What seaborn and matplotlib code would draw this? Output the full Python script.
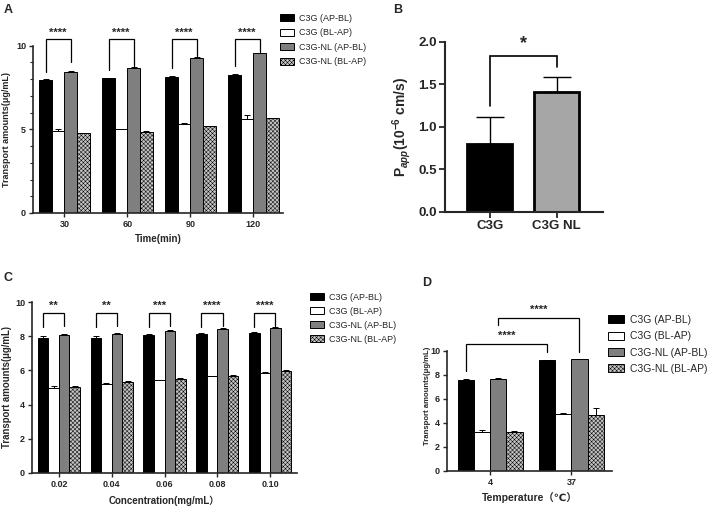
import numpy as np
import pandas as pd
import matplotlib
matplotlib.use("Agg")
import matplotlib.pyplot as plt
from matplotlib.ticker import MultipleLocator
import seaborn as sns
from matplotlib.patches import Patch

# ---------------- data ----------------
series = ["C3G (AP-BL)", "C3G (BL-AP)", "C3G-NL (AP-BL)", "C3G-NL (BL-AP)"]

time_labels = ["30", "60", "90", "120"]
a_apbl = [7.95, 8.05, 8.15, 8.27]
a_blap = [4.92, 5.00, 5.32, 5.63]
a_nl_apbl = [8.45, 8.69, 9.29, 9.54]
a_nl_blap = [4.78, 4.87, 5.20, 5.67]
a_err_apbl = [0.04, 0.04, 0.04, 0.04]
a_err_blap = [0.10, 0.05, 0.06, 0.20]
a_err_nl_apbl = [0.05, 0.05, 0.06, 0.04]
a_err_nl_blap = [0.03, 0.03, 0.03, 0.03]
a_sig = ["****", "****", "****", "****"]

b_groups = ["C3G", "C3G NL"]
b_vals = [0.80, 1.41]
b_err = [0.32, 0.18]
b_sig = "*"

conc_labels = ["0.02", "0.04", "0.06", "0.08", "0.10"]
c_apbl = [7.90, 7.92, 8.08, 8.14, 8.18]
c_blap = [4.96, 5.23, 5.42, 5.66, 5.84]
c_nl_apbl = [8.08, 8.10, 8.28, 8.43, 8.47]
c_nl_blap = [5.02, 5.32, 5.50, 5.68, 5.95]
c_err_apbl = [0.10, 0.08, 0.05, 0.05, 0.04]
c_err_blap = [0.10, 0.03, 0.04, 0.04, 0.05]
c_err_nl_apbl = [0.04, 0.06, 0.10, 0.05, 0.04]
c_err_nl_blap = [0.08, 0.05, 0.03, 0.03, 0.05]
c_sig = ["**", "**", "***", "****", "****"]

temp_labels = ["4", "37"]
d_apbl = [7.58, 9.25]
d_blap = [3.25, 4.75]
d_nl_apbl = [7.68, 9.32]
d_nl_blap = [3.27, 4.67]
d_err_apbl = [0.08, 0.03]
d_err_blap = [0.20, 0.05]
d_err_nl_apbl = [0.06, 0.04]
d_err_nl_blap = [0.05, 0.60]
d_sig = ["****", "****"]

# ---------------- style ----------------
sns.set_style("ticks")
plt.rcParams["font.family"] = ["Liberation Sans", "DejaVu Sans", "Noto Sans CJK SC"]
plt.rcParams["mathtext.fontset"] = "custom"
plt.rcParams["mathtext.rm"] = "Liberation Sans:bold"
plt.rcParams["mathtext.it"] = "Liberation Sans:italic:bold"
plt.rcParams["mathtext.bf"] = "Liberation Sans:bold"
plt.rcParams["hatch.linewidth"] = 0.35
plt.rcParams["hatch.color"] = "black"

colors = {series[0]: "black", series[1]: "white", series[2]: "#7f7f7f", series[3]: "#c4c4c4"}
HATCH = "xxxxxxxx"

W, H = 708, 508
fig = plt.figure(figsize=(W / 100, H / 100), dpi=100)


def px_axes(x0, x1, ytop, ybot):
    return fig.add_axes([x0 / W, 1 - ybot / H, (x1 - x0) / W, (ybot - ytop) / H])


def long_df(labels, vals_list):
    rows = []
    for s, vals in zip(series, vals_list):
        for g, v in zip(labels, vals):
            rows.append({"group": g, "series": s, "value": v})
    return pd.DataFrame(rows)


def grouped(ax, labels, vals_list, errs_list, xlim, ylim, yticks, fs):
    df = long_df(labels, vals_list)
    sns.barplot(data=df, x="group", y="value", hue="series", order=labels,
                hue_order=series, palette=colors, edgecolor="black",
                linewidth=0.7, errorbar=None, width=0.8, ax=ax, legend=False,
                saturation=1)
    conts = list(ax.containers)
    for i, cont in enumerate(conts):
        xs = [b.get_x() + b.get_width() / 2 for b in cont]
        hs = [b.get_height() for b in cont]
        for b in cont:
            b.set_edgecolor("black")
            b.set_linewidth(0.7)
            if i == 3:
                b.set_hatch(HATCH)
        ax.errorbar(xs, hs, yerr=[np.zeros(len(hs)), errs_list[i]], fmt="none",
                    ecolor="black", elinewidth=0.7, capsize=2.2, capthick=0.7,
                    zorder=3)
    ax.set_xlim(*xlim)
    ax.set_ylim(*ylim)
    ax.set_yticks(yticks)
    ax.set_xlabel("")
    ax.set_ylabel("")
    sns.despine(ax=ax)
    for sp in ["left", "bottom"]:
        ax.spines[sp].set_linewidth(1.2)
    ax.tick_params(labelsize=fs, width=1.0, length=3, pad=2)
    for t in ax.get_xticklabels() + ax.get_yticklabels():
        t.set_fontweight("bold")
    return conts


def centers(cont):
    return [b.get_x() + b.get_width() / 2 for b in cont]


def bracket(ax, x1, x2, y, yl1, yl2, text, ty, fs=8, lw=0.9):
    ax.plot([x1, x1, x2, x2], [yl1, y, y, yl2], color="black", lw=lw,
            clip_on=False, solid_joinstyle="miter")
    ax.text((x1 + x2) / 2, ty, text, ha="center", va="center", fontsize=fs,
            fontweight="bold", clip_on=False)


def legend_at(x, y, fs, spacing):
    handles = [Patch(facecolor=colors[s], edgecolor="black", linewidth=0.7,
                     hatch=(HATCH if i == 3 else None)) for i, s in enumerate(series)]
    fig.legend(handles, series, loc="upper left", bbox_to_anchor=(x / W, 1 - y / H),
               frameon=False, fontsize=fs, handlelength=1.5, handleheight=0.8,
               handletextpad=0.6, labelspacing=spacing, borderaxespad=0,
               borderpad=0)


# ---------------- Panel A ----------------
axA = px_axes(33, 283, 45.7, 213)
contA = grouped(axA, time_labels, [a_apbl, a_blap, a_nl_apbl, a_nl_blap],
                [a_err_apbl, a_err_blap, a_err_nl_apbl, a_err_nl_blap],
                (-0.5, 3.47), (0, 10), [0, 5, 10], 6.5)
axA.yaxis.set_minor_locator(MultipleLocator(1))
axA.tick_params(axis="y", which="minor", length=2, width=0.8)
xa1 = centers(contA[0]); xa3 = centers(contA[2])
for i in range(4):
    bracket(axA, xa1[i], xa3[i], 10.4, a_apbl[i] + 0.5,
            max(a_nl_apbl[i] + 0.1, 9.0 if i == 0 else 0), a_sig[i], 10.78, fs=8)
axA.set_ylabel("Transport amounts(μg/mL)", fontsize=6.5, fontweight="bold")
axA.yaxis.set_label_coords(-0.088, 0.5)
axA.set_xlabel("Time(min)", fontsize=7, fontweight="bold", labelpad=4)
legend_at(280, 14, 6.5, 0.6)

# ---------------- Panel B ----------------
axB = px_axes(445, 603, 42, 212)
dfB = pd.DataFrame({"group": b_groups, "value": b_vals})
sns.barplot(data=dfB, x="group", y="value", hue="group", order=b_groups,
            palette={"C3G": "black", "C3G NL": "#a6a6a6"}, edgecolor="black",
            linewidth=2.0, errorbar=None, width=0.67, ax=axB, legend=False,
            saturation=1)
barsB = [p for p in axB.patches]
barsB.sort(key=lambda b: b.get_x())
for b in barsB:
    b.set_edgecolor("black")
    b.set_linewidth(2.0)
xb = centers(barsB)
axB.errorbar(xb, [b.get_height() for b in barsB], yerr=[[0, 0], b_err], fmt="none",
             ecolor="black", elinewidth=1.0, capsize=10, capthick=1.0, zorder=3)
axB.set_xlim(-0.67, 1.69)
axB.set_ylim(0, 2.0)
axB.set_yticks([0.0, 0.5, 1.0, 1.5, 2.0])
axB.set_yticklabels(["0.0", "0.5", "1.0", "1.5", "2.0"])
axB.set_xlabel("")
sns.despine(ax=axB)
for sp in ["left", "bottom"]:
    axB.spines[sp].set_linewidth(1.5)
axB.tick_params(labelsize=9.5, width=1.3, length=4, pad=2)
for t in axB.get_xticklabels() + axB.get_yticklabels():
    t.set_fontweight("bold")
axB.set_ylabel(r"P$_{app}$(10$^{-6}$ cm/s)", fontsize=10, fontweight="bold", labelpad=4)
bracket(axB, xb[0], xb[1], 1.83, 1.25, 1.71, b_sig, 1.98, fs=13, lw=1.2)

# ---------------- Panel C ----------------
axC = px_axes(32, 297, 302, 473)
contC = grouped(axC, conc_labels, [c_apbl, c_blap, c_nl_apbl, c_nl_blap],
                [c_err_apbl, c_err_blap, c_err_nl_apbl, c_err_nl_blap],
                (-0.51, 4.51), (0, 10), [0, 2, 4, 6, 8, 10], 6.5)
xc1 = centers(contC[0]); xc3 = centers(contC[2])
for i in range(5):
    bracket(axC, xc1[i], xc3[i], 9.35, 8.55, 8.6, c_sig[i], 9.78, fs=8)
axC.set_ylabel("Transport amounts(μg/mL)", fontsize=6.9, fontweight="bold")
axC.yaxis.set_label_coords(-0.075, 0.5)
axC.set_xlabel("Concentration(mg/mL）", fontsize=7, fontweight="bold", labelpad=5)
legend_at(310, 293, 6.5, 0.55)

# ---------------- Panel D ----------------
axD = px_axes(447, 612, 351, 471)
contD = grouped(axD, temp_labels, [d_apbl, d_blap, d_nl_apbl, d_nl_blap],
                [d_err_apbl, d_err_blap, d_err_nl_apbl, d_err_nl_blap],
                (-0.53, 1.5), (0, 10), [0, 2, 4, 6, 8, 10], 6.5)
xd1 = centers(contD[0]); xd3 = centers(contD[2])
bracket(axD, xd1[0], xd1[1], 10.55, 8.36, 9.94, d_sig[0], 11.3, fs=8)
bracket(axD, xd3[0], xd3[1], 12.72, 12.17, 9.94, d_sig[1], 13.4, fs=8)
axD.set_ylabel("Transport amounts(μg/mL)", fontsize=5.6, fontweight="bold")
axD.yaxis.set_label_coords(-0.095, 0.63)
axD.set_xlabel("Temperature（℃）", fontsize=7.5, fontweight="bold", labelpad=4)
legend_at(608, 315, 7.5, 0.6)

# ---------------- panel letters ----------------
for lab, x, y in [("A", 4, 10), ("B", 393, 10), ("C", 4, 278), ("D", 422, 283)]:
    fig.text(x / W, 1 - y / H, lab, fontsize=9, fontweight="bold", ha="left", va="center")

fig.savefig("out.png", dpi=100)
